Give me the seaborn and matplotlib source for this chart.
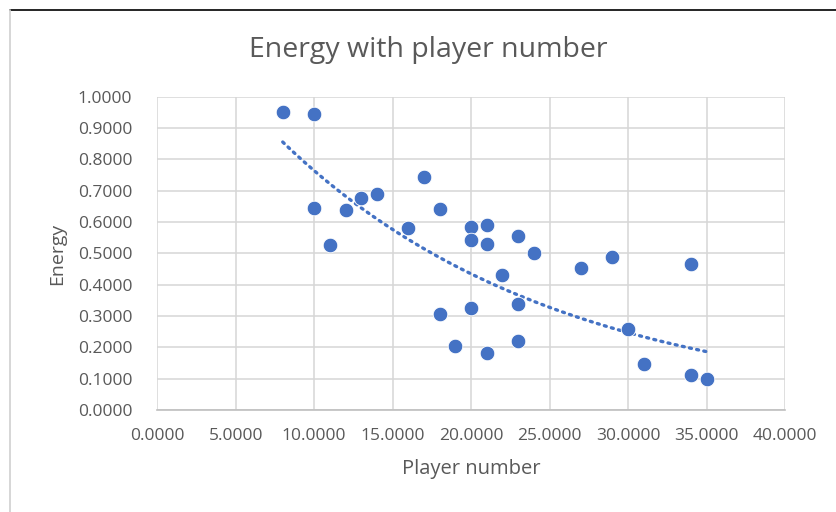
import numpy as np
import pandas as pd
import seaborn as sns
import matplotlib.pyplot as plt
from matplotlib.lines import Line2D
from matplotlib.ticker import FormatStrFormatter, MultipleLocator

# values
player_number = [8, 10, 10, 11, 12, 13, 14, 16, 17, 18, 18, 19, 20, 20, 20,
                 21, 21, 21, 22, 23, 23, 23, 24, 27, 29, 30, 31, 34, 34, 35]
energy = [0.950, 0.945, 0.645, 0.527, 0.639, 0.677, 0.690, 0.581, 0.744, 0.642,
          0.307, 0.204, 0.585, 0.543, 0.326, 0.591, 0.530, 0.182, 0.431, 0.556,
          0.339, 0.220, 0.502, 0.454, 0.489, 0.259, 0.147, 0.466, 0.112, 0.099]

df = pd.DataFrame({"Player number": player_number, "Energy": energy})

sns.set_style("white")
plt.rcParams['font.family'] = ['Open Sans', 'DejaVu Sans']
grey = "#595959"
blue = "#4472C4"

fig = plt.figure(figsize=(8.36, 5.12), dpi=100)
ax = fig.add_axes([0.188, 0.199, 0.751, 0.612])

sns.scatterplot(data=df, x="Player number", y="Energy", ax=ax, s=110,
                color=blue, edgecolor="white", linewidth=0.6, zorder=3)

# exponential trendline (Excel style)
b, a = np.polyfit(df["Player number"], np.log(df["Energy"]), 1)
xs = np.linspace(min(player_number), max(player_number), 100)
ax.plot(xs, np.exp(a + b * xs), color=blue, linestyle=(0, (0.6, 1.6)),
        linewidth=2.4, dash_capstyle="round", zorder=2)

ax.set_xlim(0, 40)
ax.set_ylim(0, 1.0)
ax.xaxis.set_major_locator(MultipleLocator(5))
ax.yaxis.set_major_locator(MultipleLocator(0.1))
ax.xaxis.set_major_formatter(FormatStrFormatter("%.4f"))
ax.yaxis.set_major_formatter(FormatStrFormatter("%.4f"))
ax.grid(True, color="#d6d6d6", linewidth=1.1)
ax.set_axisbelow(True)
for side in ["top", "right", "left"]:
    ax.spines[side].set_visible(False)
ax.spines["bottom"].set_color("#bfbfbf")
ax.spines["bottom"].set_linewidth(1.2)
ax.tick_params(axis="both", length=0, labelsize=12.5, labelcolor=grey)
ax.tick_params(axis="x", pad=13)
ax.tick_params(axis="y", pad=18)

# title centred on the chart area, as Excel does
fig.text(0.512, 0.902, "Energy with player number", fontsize=20.5, color=grey,
         ha="center", va="center")
ax.set_xlabel("Player number", fontsize=14.5, color=grey, labelpad=11)
ax.set_ylabel("Energy", fontsize=14, color=grey, labelpad=8)

# frame lines of the screenshot
fig.add_artist(Line2D([0.012, 1.0], [0.981, 0.981], color="black", linewidth=1.2))
fig.add_artist(Line2D([0.012, 0.012], [0.0, 0.981], color="#d0d0d0", linewidth=1.2))

fig.savefig("out.png", dpi=100)
